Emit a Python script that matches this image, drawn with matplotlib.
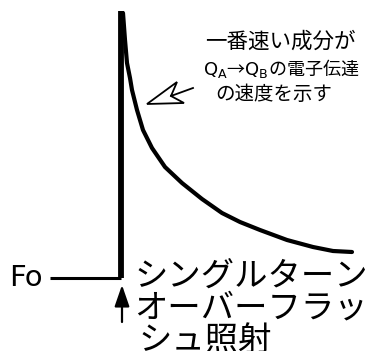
import matplotlib
matplotlib.use("Agg")
import matplotlib.pyplot as plt

# Fluorescence decay after a single-turnover flash
# time axis: 0 = flash; level 0 = Fo
base_t = [-71, 0]
base_f = [0, 0]
rise_t = [0, 0]
rise_f = [0, 267]
decay_t = [2, 4, 6, 9, 11, 16, 22, 31, 44, 61, 81, 101, 119, 139, 166, 192, 212, 231]
decay_f = [265, 238, 215, 200, 188, 168, 148, 130, 111, 95, 79, 65, 56, 48, 38, 31, 27, 26]

# hand-drawn pointer next to the note
pointer_t = [72, 50, 56, 26, 63, 50]
pointer_f = [190, 182, 196, 174, 175, 182]

fo_label = "Fo"
flash_lines = ["シングルターン", "オーバーフラッ", "シュ照射"]
note_lines = ["一番速い成分が", r"$\mathrm{Q_A}$→$\mathrm{Q_B}$の電子伝達", "の速度を示す"]

jp = ["Noto Sans CJK JP", "DejaVu Sans"]

fig = plt.figure(figsize=(3.71, 3.51), dpi=100)
ax = fig.add_axes([0, 0, 1, 1])
ax.set_xlim(-121, 250)
ax.set_ylim(-73, 278)
ax.axis("off")

ax.plot(base_t, base_f, color="black", lw=2.2, solid_capstyle="butt")
ax.plot(rise_t, rise_f, color="black", lw=4.2, solid_capstyle="butt")
ax.plot(decay_t, decay_f, color="black", lw=3.0, solid_capstyle="round")
ax.plot(pointer_t, pointer_f, color="black", lw=1.3, solid_joinstyle="miter")

# flash arrow
ax.annotate("", xy=(1, -7), xytext=(1, -44),
            arrowprops=dict(arrowstyle="-|>,head_width=0.45,head_length=1.3",
                            color="black", lw=1.6, shrinkA=0, shrinkB=0))

ax.text(-112, 0, fo_label, family="DejaVu Sans", fontsize=21, va="center", ha="left")

# the last line runs off the bottom edge, as in the original
flash_x = [13, 13, 17]
flash_y = [2, -30, -62]
for x, y, s in zip(flash_x, flash_y, flash_lines):
    ax.text(x, y, s, family=jp, fontsize=24, va="center", ha="left")

note_x = [84, 82, 94]
note_y = [236, 210, 183]
note_size = [15.5, 13, 14]
for x, y, fs, s in zip(note_x, note_y, note_size, note_lines):
    ax.text(x, y, s, family=jp, fontsize=fs, va="center", ha="left")

fig.savefig("out.png", dpi=100)
